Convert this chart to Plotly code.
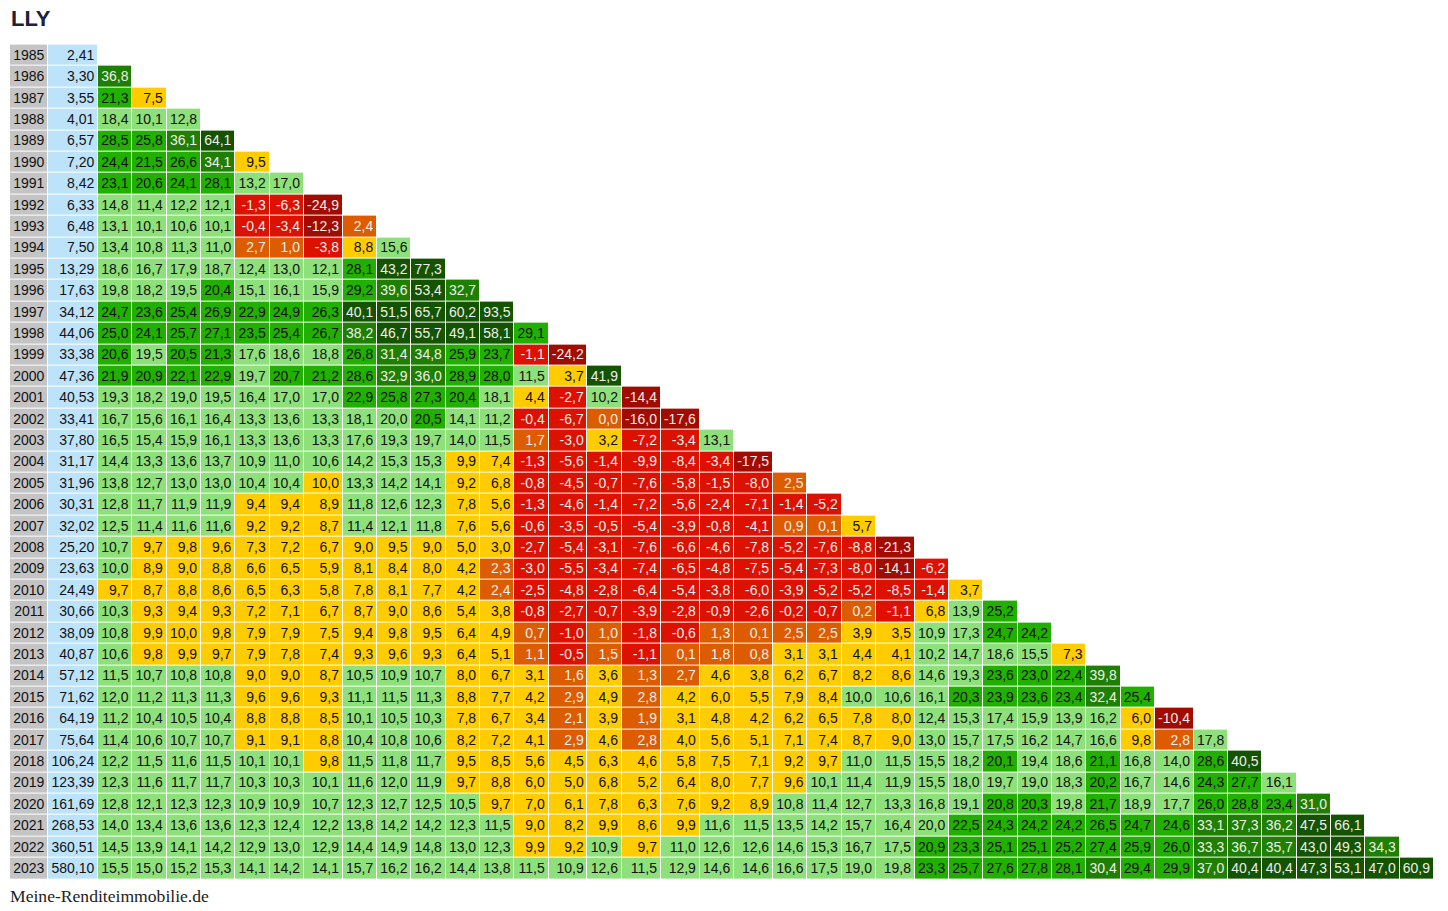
import math
import plotly.graph_objects as go

# ---------------- data ----------------
title_text = "LLY"
source_text = "Meine-Renditeimmobilie.de"

years = list(range(1985, 2024))
prices = [2.41, 3.30, 3.55, 4.01, 6.57, 7.20, 8.42, 6.33, 6.48, 7.50,
          13.29, 17.63, 34.12, 44.06, 33.38, 47.36, 40.53, 33.41, 37.80, 31.17,
          31.96, 30.31, 32.02, 25.20, 23.63, 24.49, 30.66, 38.09, 40.87, 57.12,
          71.62, 64.19, 75.64, 106.24, 123.39, 161.69, 268.53, 360.51, 580.10]

# annualised return (%) from start year (1985, 1986, ...) up to the row year
ret_1985 = []
ret_1986 = [36.8]
ret_1987 = [21.3, 7.5]
ret_1988 = [18.4, 10.1, 12.8]
ret_1989 = [28.5, 25.8, 36.1, 64.1]
ret_1990 = [24.4, 21.5, 26.6, 34.1, 9.5]
ret_1991 = [23.1, 20.6, 24.1, 28.1, 13.2, 17.0]
ret_1992 = [14.8, 11.4, 12.2, 12.1, -1.3, -6.3, -24.9]
ret_1993 = [13.1, 10.1, 10.6, 10.1, -0.4, -3.4, -12.3, 2.4]
ret_1994 = [13.4, 10.8, 11.3, 11.0, 2.7, 1.0, -3.8, 8.8, 15.6]
ret_1995 = [18.6, 16.7, 17.9, 18.7, 12.4, 13.0, 12.1, 28.1, 43.2, 77.3]
ret_1996 = [19.8, 18.2, 19.5, 20.4, 15.1, 16.1, 15.9, 29.2, 39.6, 53.4, 32.7]
ret_1997 = [24.7, 23.6, 25.4, 26.9, 22.9, 24.9, 26.3, 40.1, 51.5, 65.7, 60.2, 93.5]
ret_1998 = [25.0, 24.1, 25.7, 27.1, 23.5, 25.4, 26.7, 38.2, 46.7, 55.7, 49.1, 58.1, 29.1]
ret_1999 = [20.6, 19.5, 20.5, 21.3, 17.6, 18.6, 18.8, 26.8, 31.4, 34.8, 25.9, 23.7, -1.1, -24.2]
ret_2000 = [21.9, 20.9, 22.1, 22.9, 19.7, 20.7, 21.2, 28.6, 32.9, 36.0, 28.9, 28.0, 11.5, 3.7, 41.9]
ret_2001 = [19.3, 18.2, 19.0, 19.5, 16.4, 17.0, 17.0, 22.9, 25.8, 27.3, 20.4, 18.1, 4.4, -2.7, 10.2,
            -14.4]
ret_2002 = [16.7, 15.6, 16.1, 16.4, 13.3, 13.6, 13.3, 18.1, 20.0, 20.5, 14.1, 11.2, -0.4, -6.7, 0.0,
            -16.0, -17.6]
ret_2003 = [16.5, 15.4, 15.9, 16.1, 13.3, 13.6, 13.3, 17.6, 19.3, 19.7, 14.0, 11.5, 1.7, -3.0, 3.2,
            -7.2, -3.4, 13.1]
ret_2004 = [14.4, 13.3, 13.6, 13.7, 10.9, 11.0, 10.6, 14.2, 15.3, 15.3, 9.9, 7.4, -1.3, -5.6, -1.4,
            -9.9, -8.4, -3.4, -17.5]
ret_2005 = [13.8, 12.7, 13.0, 13.0, 10.4, 10.4, 10.0, 13.3, 14.2, 14.1, 9.2, 6.8, -0.8, -4.5, -0.7,
            -7.6, -5.8, -1.5, -8.0, 2.5]
ret_2006 = [12.8, 11.7, 11.9, 11.9, 9.4, 9.4, 8.9, 11.8, 12.6, 12.3, 7.8, 5.6, -1.3, -4.6, -1.4,
            -7.2, -5.6, -2.4, -7.1, -1.4, -5.2]
ret_2007 = [12.5, 11.4, 11.6, 11.6, 9.2, 9.2, 8.7, 11.4, 12.1, 11.8, 7.6, 5.6, -0.6, -3.5, -0.5,
            -5.4, -3.9, -0.8, -4.1, 0.9, 0.1, 5.7]
ret_2008 = [10.7, 9.7, 9.8, 9.6, 7.3, 7.2, 6.7, 9.0, 9.5, 9.0, 5.0, 3.0, -2.7, -5.4, -3.1,
            -7.6, -6.6, -4.6, -7.8, -5.2, -7.6, -8.8, -21.3]
ret_2009 = [10.0, 8.9, 9.0, 8.8, 6.6, 6.5, 5.9, 8.1, 8.4, 8.0, 4.2, 2.3, -3.0, -5.5, -3.4,
            -7.4, -6.5, -4.8, -7.5, -5.4, -7.3, -8.0, -14.1, -6.2]
ret_2010 = [9.7, 8.7, 8.8, 8.6, 6.5, 6.3, 5.8, 7.8, 8.1, 7.7, 4.2, 2.4, -2.5, -4.8, -2.8,
            -6.4, -5.4, -3.8, -6.0, -3.9, -5.2, -5.2, -8.5, -1.4, 3.7]
ret_2011 = [10.3, 9.3, 9.4, 9.3, 7.2, 7.1, 6.7, 8.7, 9.0, 8.6, 5.4, 3.8, -0.8, -2.7, -0.7,
            -3.9, -2.8, -0.9, -2.6, -0.2, -0.7, 0.2, -1.1, 6.8, 13.9, 25.2]
ret_2012 = [10.8, 9.9, 10.0, 9.8, 7.9, 7.9, 7.5, 9.4, 9.8, 9.5, 6.4, 4.9, 0.7, -1.0, 1.0,
            -1.8, -0.6, 1.3, 0.1, 2.5, 2.5, 3.9, 3.5, 10.9, 17.3, 24.7, 24.2]
ret_2013 = [10.6, 9.8, 9.9, 9.7, 7.9, 7.8, 7.4, 9.3, 9.6, 9.3, 6.4, 5.1, 1.1, -0.5, 1.5,
            -1.1, 0.1, 1.8, 0.8, 3.1, 3.1, 4.4, 4.1, 10.2, 14.7, 18.6, 15.5, 7.3]
ret_2014 = [11.5, 10.7, 10.8, 10.8, 9.0, 9.0, 8.7, 10.5, 10.9, 10.7, 8.0, 6.7, 3.1, 1.6, 3.6,
            1.3, 2.7, 4.6, 3.8, 6.2, 6.7, 8.2, 8.6, 14.6, 19.3, 23.6, 23.0, 22.4, 39.8]
ret_2015 = [12.0, 11.2, 11.3, 11.3, 9.6, 9.6, 9.3, 11.1, 11.5, 11.3, 8.8, 7.7, 4.2, 2.9, 4.9,
            2.8, 4.2, 6.0, 5.5, 7.9, 8.4, 10.0, 10.6, 16.1, 20.3, 23.9, 23.6, 23.4, 32.4, 25.4]
ret_2016 = [11.2, 10.4, 10.5, 10.4, 8.8, 8.8, 8.5, 10.1, 10.5, 10.3, 7.8, 6.7, 3.4, 2.1, 3.9,
            1.9, 3.1, 4.8, 4.2, 6.2, 6.5, 7.8, 8.0, 12.4, 15.3, 17.4, 15.9, 13.9, 16.2, 6.0, -10.4]
ret_2017 = [11.4, 10.6, 10.7, 10.7, 9.1, 9.1, 8.8, 10.4, 10.8, 10.6, 8.2, 7.2, 4.1, 2.9, 4.6,
            2.8, 4.0, 5.6, 5.1, 7.1, 7.4, 8.7, 9.0, 13.0, 15.7, 17.5, 16.2, 14.7, 16.6, 9.8, 2.8, 17.8]
ret_2018 = [12.2, 11.5, 11.6, 11.5, 10.1, 10.1, 9.8, 11.5, 11.8, 11.7, 9.5, 8.5, 5.6, 4.5, 6.3,
            4.6, 5.8, 7.5, 7.1, 9.2, 9.7, 11.0, 11.5, 15.5, 18.2, 20.1, 19.4, 18.6, 21.1, 16.8, 14.0,
            28.6, 40.5]
ret_2019 = [12.3, 11.6, 11.7, 11.7, 10.3, 10.3, 10.1, 11.6, 12.0, 11.9, 9.7, 8.8, 6.0, 5.0, 6.8,
            5.2, 6.4, 8.0, 7.7, 9.6, 10.1, 11.4, 11.9, 15.5, 18.0, 19.7, 19.0, 18.3, 20.2, 16.7, 14.6,
            24.3, 27.7, 16.1]
ret_2020 = [12.8, 12.1, 12.3, 12.3, 10.9, 10.9, 10.7, 12.3, 12.7, 12.5, 10.5, 9.7, 7.0, 6.1, 7.8,
            6.3, 7.6, 9.2, 8.9, 10.8, 11.4, 12.7, 13.3, 16.8, 19.1, 20.8, 20.3, 19.8, 21.7, 18.9, 17.7,
            26.0, 28.8, 23.4, 31.0]
ret_2021 = [14.0, 13.4, 13.6, 13.6, 12.3, 12.4, 12.2, 13.8, 14.2, 14.2, 12.3, 11.5, 9.0, 8.2, 9.9,
            8.6, 9.9, 11.6, 11.5, 13.5, 14.2, 15.7, 16.4, 20.0, 22.5, 24.3, 24.2, 24.2, 26.5, 24.7, 24.6,
            33.1, 37.3, 36.2, 47.5, 66.1]
ret_2022 = [14.5, 13.9, 14.1, 14.2, 12.9, 13.0, 12.9, 14.4, 14.9, 14.8, 13.0, 12.3, 9.9, 9.2, 10.9,
            9.7, 11.0, 12.6, 12.6, 14.6, 15.3, 16.7, 17.5, 20.9, 23.3, 25.1, 25.1, 25.2, 27.4, 25.9, 26.0,
            33.3, 36.7, 35.7, 43.0, 49.3, 34.3]
ret_2023 = [15.5, 15.0, 15.2, 15.3, 14.1, 14.2, 14.1, 15.7, 16.2, 16.2, 14.4, 13.8, 11.5, 10.9, 12.6,
            11.5, 12.9, 14.6, 14.6, 16.6, 17.5, 19.0, 19.8, 23.3, 25.7, 27.6, 27.8, 28.1, 30.4, 29.4, 29.9,
            37.0, 40.4, 40.4, 47.3, 53.1, 47.0, 60.9]

# cells shown as "10,0" whose unrounded return lies just below 10 %  (row year, start year)
just_below_ten = [(2005, 1991), (2012, 1987)]

returns = [ret_1985, ret_1986, ret_1987, ret_1988, ret_1989, ret_1990, ret_1991, ret_1992,
           ret_1993, ret_1994, ret_1995, ret_1996, ret_1997, ret_1998, ret_1999, ret_2000,
           ret_2001, ret_2002, ret_2003, ret_2004, ret_2005, ret_2006, ret_2007, ret_2008,
           ret_2009, ret_2010, ret_2011, ret_2012, ret_2013, ret_2014, ret_2015, ret_2016,
           ret_2017, ret_2018, ret_2019, ret_2020, ret_2021, ret_2022, ret_2023]
start_years = years[:-1]

# ---------------- style ----------------
FONT = "Liberation Sans, Arial, Helvetica, sans-serif"
FS = 14
class_colors = [
    "#c4c4c4",  # 0 year column
    "#bde3fb",  # 1 price column
    "#a20c00",  # 2 < -10
    "#dd1100",  # 3 < 0
    "#dd5c00",  # 4 0..3
    "#ffcc00",  # 5 3..10
    "#8ee07a",  # 6 10..20
    "#22b000",  # 7 20..30
    "#1e7f00",  # 8 30..40
    "#145300",  # 9 >= 40
]
light_text_classes = {2, 3, 4, 8, 9}
DARK_TXT = "#111111"
LIGHT_TXT = "#eeeeee"


def value_class(v, yr, st):
    if (yr, st) in just_below_ten:
        return 5
    if v < -10:
        return 2
    if v < 0:
        return 3
    if v < 3:
        return 4
    if v < 10:
        return 5
    if v < 20.05:
        return 6
    if v < 30:
        return 7
    if v < 40:
        return 8
    return 9


def fmt1(v):
    return f"{v:.1f}".replace(".", ",")


def fmt2(v):
    return f"{v:.2f}".replace(".", ",")


# approximate Arial advance widths (em) to size columns like an HTML table
ADV = {"-": 0.333, ",": 0.278}


def text_w(s):
    return sum(ADV.get(c, 0.556) for c in s) * FS


# ---------------- build grid ----------------
col_texts = [[str(y) for y in years], [fmt2(p) for p in prices]] + [[] for _ in start_years]
for ri, row in enumerate(returns):
    for ci, v in enumerate(row):
        col_texts[2 + ci].append(fmt1(v))

CELL_PAD = 7.05
x_edges = [10.0]
for texts in col_texts:
    x_edges.append(x_edges[-1] + max(text_w(t) for t in texts) + CELL_PAD)

ROW_TOP = 44.6
ROW_PITCH = 21.4
y_edges = [ROW_TOP + ROW_PITCH * k for k in range(len(years) + 1)]
TEXT_SHIFT = 1.0

z = []
tx, ty, tt, tc = [], [], [], []
for ri, yr in enumerate(years):
    zrow = [0, 1] + [None] * len(start_years)
    yc = (y_edges[ri] + y_edges[ri + 1]) / 2 + TEXT_SHIFT
    cells = [(0, str(yr), DARK_TXT), (1, fmt2(prices[ri]), DARK_TXT)]
    for ci, v in enumerate(returns[ri]):
        c = value_class(v, yr, start_years[ci])
        zrow[2 + ci] = c
        cells.append((2 + ci, fmt1(v), LIGHT_TXT if c in light_text_classes else DARK_TXT))
    z.append(zrow)
    for col, s, color in cells:
        tx.append(x_edges[col + 1] - 3.8)
        ty.append(yc)
        tt.append(s)
        tc.append(color)

n = len(class_colors)
colorscale = []
for i, col in enumerate(class_colors):
    colorscale.append([i / n, col])
    colorscale.append([(i + 1) / n, col])

fig = go.Figure()
fig.add_trace(go.Heatmap(
    x=x_edges, y=y_edges, z=z,
    colorscale=colorscale, zmin=-0.5, zmax=n - 0.5,
    showscale=False, xgap=1, ygap=1, hoverinfo="skip",
))
fig.add_trace(go.Scatter(
    x=tx, y=ty, text=tt, mode="text", textposition="middle left",
    textfont=dict(family=FONT, size=FS, color=tc), hoverinfo="skip",
))

W, H = 1448, 911
fig.update_layout(
    width=W, height=H,
    margin=dict(l=0, r=0, t=0, b=0),
    paper_bgcolor="white", plot_bgcolor="white",
    showlegend=False,
    xaxis=dict(range=[0, W], visible=False, fixedrange=True),
    yaxis=dict(range=[H, 0], visible=False, fixedrange=True),
    annotations=[
        dict(text=f"<b>{title_text}</b>", xref="paper", yref="paper",
             x=9 / W, y=1 - 18.4 / H, xanchor="left", yanchor="middle", showarrow=False,
             font=dict(family=FONT, size=22, color="#20203a")),
        dict(text=source_text, xref="paper", yref="paper",
             x=8 / W, y=1 - 896 / H, xanchor="left", yanchor="middle", showarrow=False,
             font=dict(family="Liberation Serif, Times New Roman, serif", size=17.6, color="#222222")),
    ],
)

fig.write_html("out.html", config={"displayModeBar": False},
               post_script="document.body.style.margin='0';")
